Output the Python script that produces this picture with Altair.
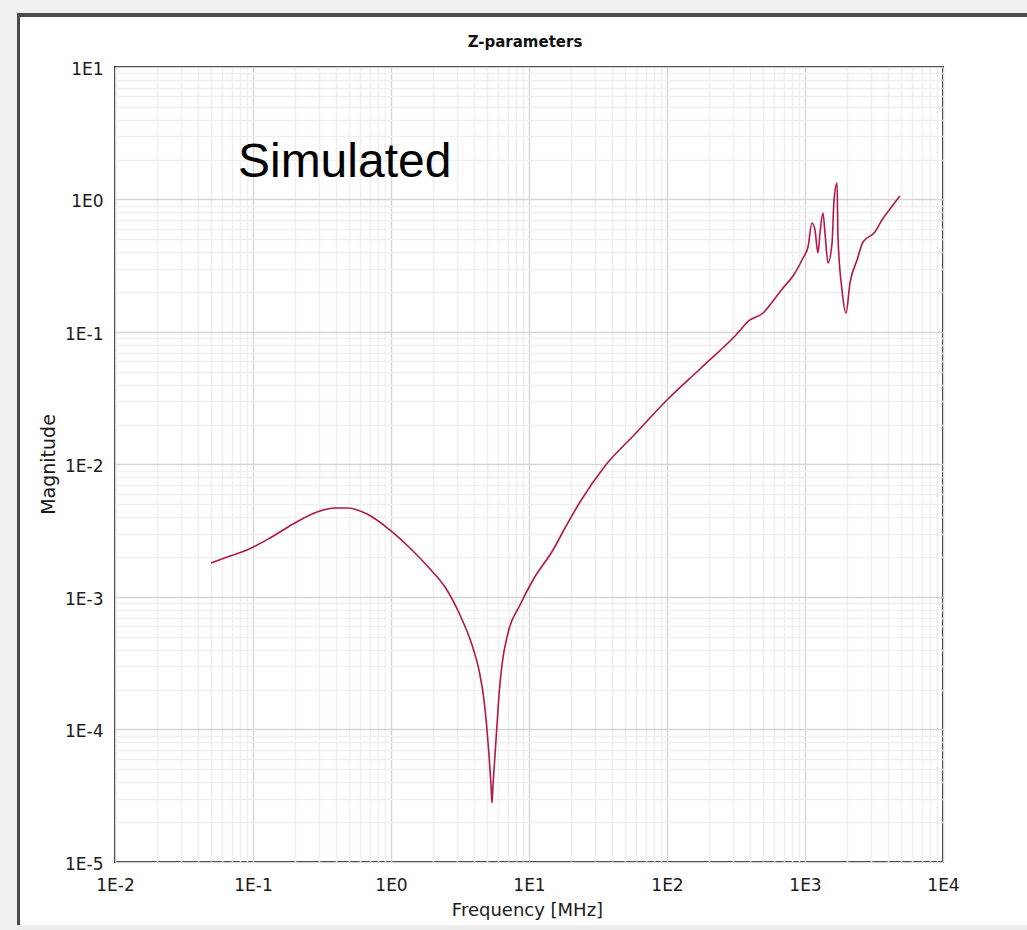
import altair as alt
import pandas as pd

# Z-parameter magnitude versus frequency (simulated)
freq_mhz = [
    0.0496, 0.0681, 0.0905, 0.1328, 0.1949, 0.291, 0.3928, 0.48, 0.67, 0.9835,
    1.373, 1.917, 2.462, 3.162, 3.864, 4.343, 4.72, 4.962, 5.131, 5.304,
    5.394, 5.485, 5.67, 5.862, 6.061, 6.37, 7.043, 8.604, 10.69, 14.92,
    18.24, 23.42, 35.54, 58.62, 100, 173.4, 311.1, 399.5, 496.2, 586.2,
    692.8, 818.5, 967.2, 1051, 1124, 1181, 1241, 1284, 1349, 1396,
    1468, 1571, 1623, 1706, 1734, 1854, 1982, 2118, 2382, 2633,
    3214, 3612, 4130, 4877,
]
magnitude = [
    1.806e-3, 2.039e-3, 2.263e-3, 2.788e-3, 3.556e-3, 4.38e-3, 4.695e-3, 4.695e-3, 4.23e-3, 3.202e-3,
    2.343e-3, 1.627e-3, 1.19e-3, 7.31e-4, 4.34e-4, 2.81e-4, 1.67e-4, 9.91e-5, 6.42e-5, 3.81e-5,
    2.79e-5, 3.81e-5, 6.42e-5, 1.081e-4, 1.822e-4, 3.07e-4, 5.35e-4, 8.7e-4, 1.344e-3, 2.263e-3,
    3.317e-3, 5.21e-3, 9.74e-3, 1.699e-2, 3.066e-2, 5.26e-2, 9.33e-2, 0.1232, 0.1391, 0.1714,
    0.2149, 0.2647, 0.3618, 0.438, 0.665, 0.589, 0.395, 0.558, 0.791, 0.558,
    0.332, 0.470, 0.99, 1.33, 0.521, 0.208, 0.139, 0.234, 0.349, 0.478,
    0.5686, 0.700, 0.848, 1.063,
]

# annotation text
note_text = ["Simulated"]
note_freq = [0.0778]
note_mag = [1.48]

chart_title = "Z-parameters"

# decade and sub-decade grid positions
x_grid = [k * 10.0 ** d for d in range(-2, 4) for k in range(1, 10)] + [1e4]
y_grid = [k * 10.0 ** d for d in range(-5, 1) for k in range(1, 10)] + [10.0]

is_decade = "abs(log(datum.value)/LN10 - round(log(datum.value)/LN10)) < 1e-6"
decade_label = f"{is_decade} ? '1E' + round(log(datum.value)/LN10) : ''"
grid_color = {"condition": {"test": is_decade, "value": "#d6d6d6"}, "value": "#efefef"}

FONT = "DejaVu Sans"
LABEL_COLOR = "#1a1a1a"

x_scale = alt.Scale(type="log", domain=[1e-2, 1e4], nice=False)
y_scale = alt.Scale(type="log", domain=[1e-5, 1e1], nice=False)

x_axis = alt.Axis(
    values=x_grid, labelExpr=decade_label, gridColor=grid_color, gridWidth=1.5,
    ticks=False, tickSize=0, domain=False,
    labelFont=FONT, labelFontSize=17, labelColor=LABEL_COLOR,
    labelBaseline="middle", labelPadding=23, labelOverlap=False, labelFlush=False,
    title="Frequency [MHz]", titleFont=FONT, titleFontSize=18, titleFontWeight="normal",
    titleColor=LABEL_COLOR, titleX=412, titleY=48, titleAlign="center",
    titleBaseline="middle", titleAngle=0,
)
y_axis = alt.Axis(
    values=y_grid, labelExpr=decade_label, gridColor=grid_color, gridWidth=1.5,
    ticks=False, tickSize=0, domain=False,
    labelFont=FONT, labelFontSize=17, labelColor=LABEL_COLOR,
    labelPadding=12, labelOverlap=False, labelFlush=False, labelOffset=2,
    title="Magnitude", titleFont=FONT, titleFontSize=19, titleFontWeight="normal",
    titleColor=LABEL_COLOR, titleX=-67, titleY=397, titleAlign="center",
    titleBaseline="middle", titleAngle=-90,
)

curve = alt.Chart(pd.DataFrame({"freq": freq_mhz, "mag": magnitude})).mark_line(
    color="#b3164c", strokeWidth=1.6, interpolate="monotone"
).encode(
    x=alt.X("freq:Q", scale=x_scale, axis=x_axis),
    y=alt.Y("mag:Q", scale=y_scale, axis=y_axis),
)

note = alt.Chart(pd.DataFrame({"freq": note_freq, "mag": note_mag, "label": note_text})).mark_text(
    font="Liberation Sans", fontSize=48, align="left", baseline="alphabetic", color="#000000"
).encode(
    x=alt.X("freq:Q", scale=x_scale, axis=x_axis),
    y=alt.Y("mag:Q", scale=y_scale, axis=y_axis),
    text="label:N",
)

# chart heading, centred above the plot frame
heading = alt.Chart(alt.Data(values=[{"t": chart_title}])).mark_text(
    font=FONT, fontSize=15, fontWeight="bold", color="#111111",
    align="center", baseline="alphabetic",
).encode(x=alt.value(410), y=alt.value(-20), text="t:N")


def band(x0, x1, y0, y1, color):
    # window-frame strip, in pixels relative to the plot origin
    return alt.Chart(alt.Data(values=[{}])).mark_rect(color=color).encode(
        x=alt.value(x0), x2=alt.value(x1), y=alt.value(y0), y2=alt.value(y1)
    )


frame = [
    band(-115, 912, -67, -54, "#f0f0f0"),
    band(-115, -98, -67, 863, "#f0f0f0"),
    band(-98, 912, 858, 863, "#ececec"),
    band(-97, 912, -54, -50, "#4a4a4a"),
    band(-98, -95, -54, 858, "#4a4a4a"),
]

chart = alt.layer(curve, note, heading, *frame).properties(
    width=828,
    height=795,
    padding={"left": 115, "top": 67, "right": 84, "bottom": 68},
    autosize=alt.AutoSizeParams(type="none"),
    background="#ffffff",
).configure_view(stroke="#222222", strokeWidth=2, fill="#ffffff")

chart.save("out.html", embed_options={"renderer": "svg", "actions": False})
